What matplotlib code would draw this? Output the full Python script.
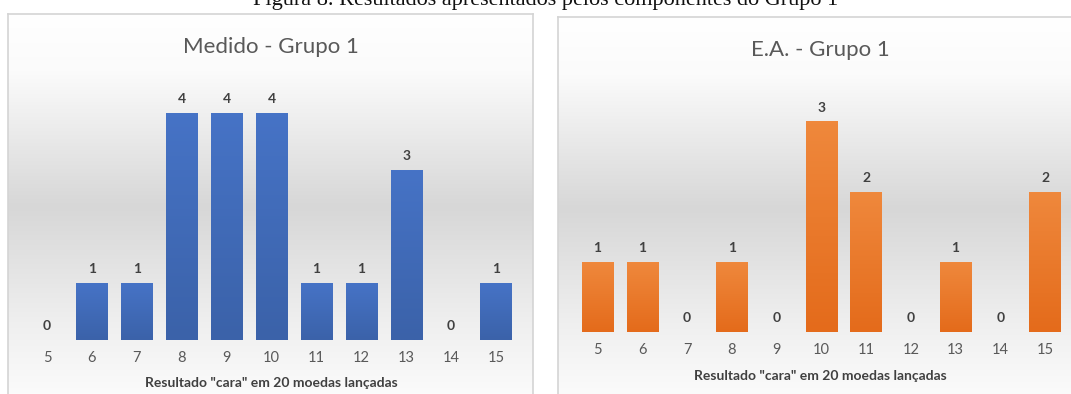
import numpy as np
import matplotlib
matplotlib.use('Agg')
import matplotlib.pyplot as plt
from matplotlib.colors import LinearSegmentedColormap

W, H = 1071, 394

cats = [5, 6, 7, 8, 9, 10, 11, 12, 13, 14, 15]
medido = [0, 1, 1, 4, 4, 4, 1, 1, 3, 0, 1]
ea = [1, 1, 0, 1, 0, 3, 2, 0, 1, 0, 2]

legenda_fig = "Figura 8. Resultados apresentados pelos componentes do Grupo 1"
titulos = ["Medido - Grupo 1", "E.A. - Grupo 1"]
rotulo_x = 'Resultado "cara" em 20 moedas lançadas'

FONTE = ['Lato', 'DejaVu Sans']
plt.rcParams['font.family'] = FONTE

fundo_cmap = LinearSegmentedColormap.from_list(
    'fundo', [(0, '#ffffff'), (0.15, '#fbfbfb'), (0.5, '#d7d7d7'),
              (0.8, '#efefef'), (1, '#fcfcfc')])
azul_cmap = LinearSegmentedColormap.from_list('azul', ['#4673c6', '#3b62a9'])
laranja_cmap = LinearSegmentedColormap.from_list('laranja', ['#ef883c', '#e46b1b'])


def px(x0, y0, x1, y1):
    # caixa em pixels (origem em cima) -> fracao da figura
    return [x0 / W, 1 - y1 / H, (x1 - x0) / W, (y1 - y0) / H]


fig = plt.figure(figsize=(W / 100, H / 100), dpi=100)
fig.patch.set_facecolor('white')

# a legenda aparece cortada no topo, como na imagem original
fig.text(546 / W, 1 - 5 / H, legenda_fig, ha='center', va='baseline',
         fontsize=16, family=['Liberation Serif', 'DejaVu Serif'], color='#111111')


def painel(caixa, area, valores, titulo, ymax, cmap, pos_titulo, pos_rotulo):
    bg = fig.add_axes(px(*caixa), zorder=0)
    grad = np.linspace(0, 1, 256).reshape(-1, 1)
    bg.imshow(grad, aspect='auto', cmap=fundo_cmap, extent=(0, 1, 0, 1),
              vmin=0, vmax=1)
    bg.set_xlim(0, 1)
    bg.set_ylim(0, 1)
    bg.set_xticks([])
    bg.set_yticks([])
    for s in bg.spines.values():
        s.set_color('#d4d4d4')
        s.set_linewidth(1.2)

    ax = fig.add_axes(px(*area), zorder=1)
    ax.patch.set_alpha(0)
    larg = 0.7
    barras = ax.bar(cats, valores, width=larg, color=cmap(0.5), zorder=2)
    g = np.linspace(0, 1, 64).reshape(-1, 1)
    for b, v in zip(barras, valores):
        if v == 0:
            continue
        x = b.get_x()
        ax.imshow(g, cmap=cmap, aspect='auto', extent=(x, x + larg, 0, v),
                  vmin=0, vmax=1, zorder=3)
    for c, v in zip(cats, valores):
        ax.annotate(str(v), (c, v), xytext=(0, 10), textcoords='offset points',
                    ha='center', va='center', fontsize=10, fontweight='bold',
                    color='#404040', zorder=4)
    ax.set_xlim(4.5, 15.5)
    ax.set_ylim(0, ymax)
    ax.set_xticks(cats)
    ax.set_xticklabels([str(c) for c in cats], fontsize=10.5, color='#595959')
    ax.tick_params(axis='x', length=0, pad=8)
    ax.set_yticks([])
    for s in ax.spines.values():
        s.set_visible(False)

    fig.text(pos_titulo[0] / W, 1 - pos_titulo[1] / H, titulo, ha='center',
             va='center', fontsize=16, color='#595959')
    fig.text(pos_rotulo[0] / W, 1 - pos_rotulo[1] / H, rotulo_x, ha='center',
             va='center', fontsize=10, fontweight='bold', color='#404040')
    return ax


painel((8, 14, 533, 400), (24.5, 85, 518.5, 340), medido, titulos[0], 4.5,
       azul_cmap, (271, 47), (271, 383))
painel((558, 17, 1080, 400), (575.2, 86.5, 1067.4, 331.5), ea, titulos[1], 3.5,
       laranja_cmap, (820, 50), (820, 376))

fig.savefig('out.png', dpi=100)
